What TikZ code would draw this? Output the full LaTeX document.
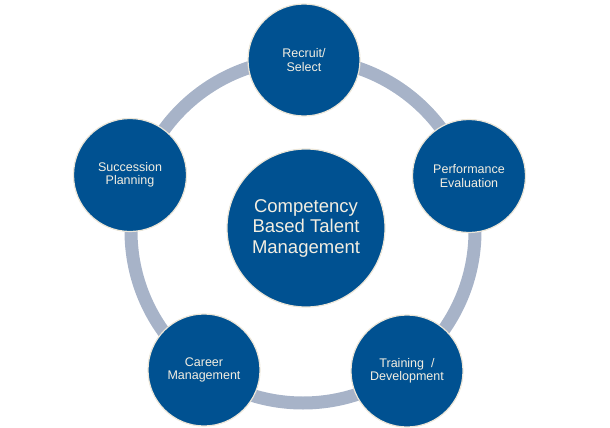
\documentclass[tikz,border=0pt]{standalone}
\usepackage{fontspec}
\setmainfont{Liberation Sans}
\definecolor{discblue}{RGB}{0,81,145}
\definecolor{ringgrey}{RGB}{167,179,200}
\definecolor{rimcream}{RGB}{236,230,216}
\definecolor{textcream}{RGB}{243,238,225}
\begin{document}
\begin{tikzpicture}[x=1pt,y=-1pt]
	\tikzstyle{every node}+=[inner sep=0pt]
	\tikzstyle{disc}=[circle,fill=discblue,draw=rimcream,line width=1.2pt,text=textcream,align=center,font=\fontsize{12.5}{13.5}\selectfont]
	\useasboundingbox (0,0) rectangle (610,428);
	\draw [ringgrey,line width=13pt] (303,231) circle (172);
	\node [disc,minimum size=158pt,font=\fontsize{18.5}{20.5}\selectfont] (core) at (306,228) {Competency\\Based Talent\\Management};
	\node [disc,minimum size=112pt] (recruit) at (304,60) {Recruit/\\Select};
	\node [disc,minimum size=113pt] (perf) at (469,176) {Performance\\Evaluation};
	\node [disc,minimum size=112pt] (train) at (407,371) {Training~~/\\Development};
	\node [disc,minimum size=112pt] (career) at (204,370) {Career\\Management};
	\node [disc,minimum size=113pt] (succ) at (130,175) {Succession\\Planning};
\end{tikzpicture}
\end{document}
